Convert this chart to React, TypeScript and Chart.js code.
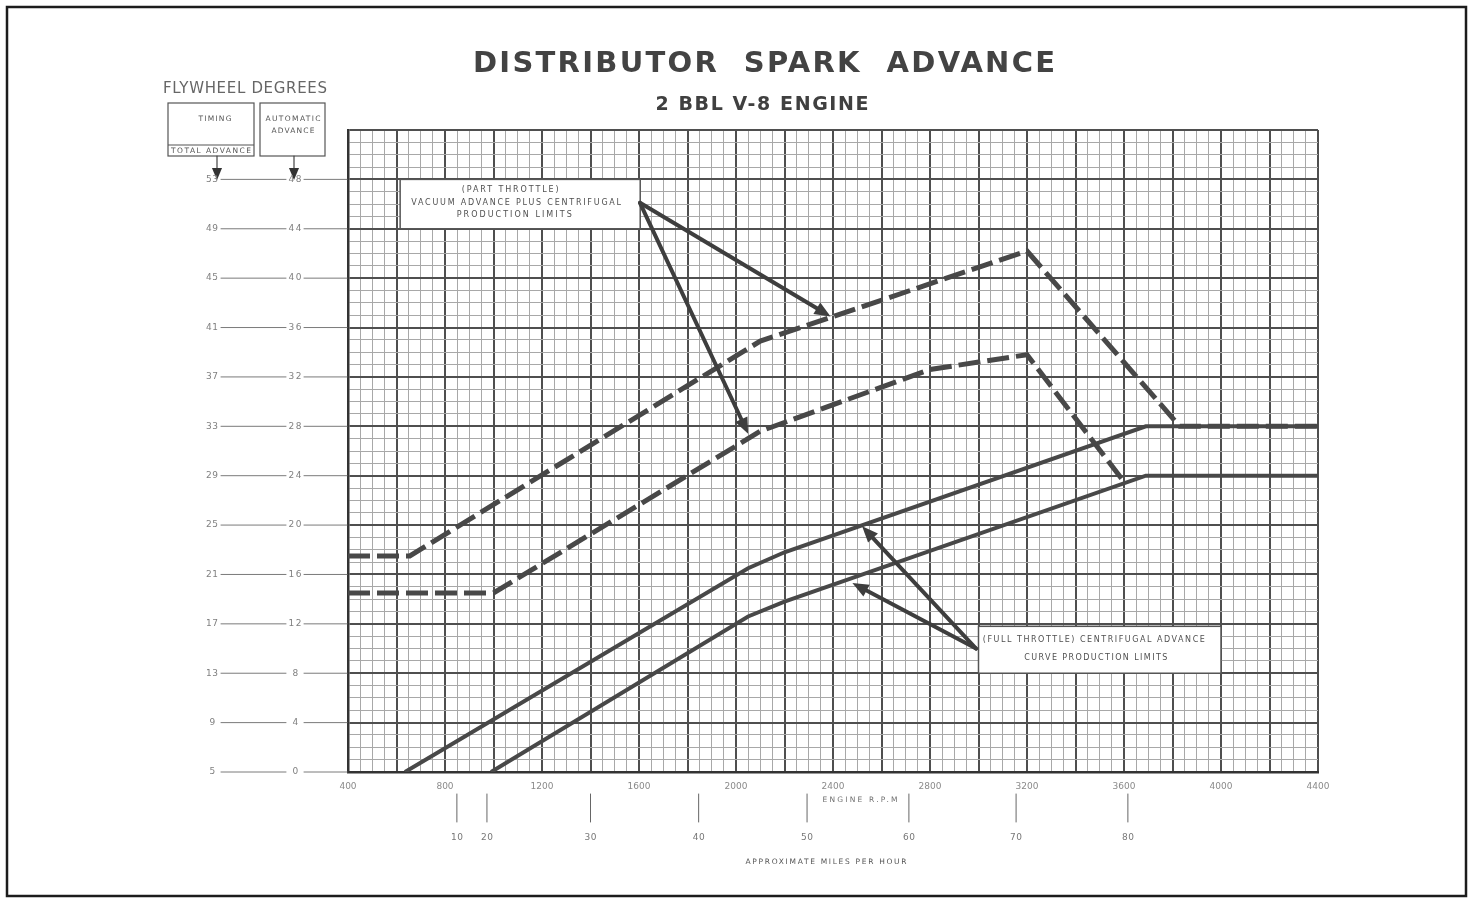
import React, { useEffect, useRef } from "react";
import { Chart, registerables } from "chart.js";

Chart.register(...registerables);

// ---------- data ----------
const rpmTickLabels = [400, 800, 1200, 1600, 2000, 2400, 2800, 3200, 3600, 4000, 4400];
const autoAdvanceTicks = [0, 4, 8, 12, 16, 20, 24, 28, 32, 36, 40, 44, 48];
const totalAdvanceTicks = [5, 9, 13, 17, 21, 25, 29, 33, 37, 41, 45, 49, 53];
const mphLabels = [10, 20, 30, 40, 50, 60, 70, 80];
const mphAtRpm = [849, 973, 1400, 1846, 2293, 2713, 3155, 3616];

// Part throttle (vacuum + centrifugal) limits – dashed
const partUpperRpm = [400, 655, 2100, 3200, 3830, 4400];
const partUpperDeg = [17.5, 17.5, 34.9, 42.2, 28, 28];
const partLowerRpm = [400, 1000, 2100, 2800, 3200, 3600];
const partLowerDeg = [14.5, 14.5, 27.6, 32.6, 33.8, 23.5];

// Full throttle (centrifugal) limits – solid
const fullUpperRpm = [635, 2050, 2200, 3690, 4400];
const fullUpperDeg = [0, 16.5, 17.8, 28, 28];
const fullLowerRpm = [990, 2050, 2200, 3690, 4400];
const fullLowerDeg = [0, 12.6, 13.8, 24, 24];

// annotation texts
const partNoteLines = ["(PART THROTTLE)", "VACUUM ADVANCE PLUS CENTRIFUGAL", "PRODUCTION LIMITS"];
const fullNoteLines = ["(FULL THROTTLE) CENTRIFUGAL ADVANCE", "CURVE PRODUCTION LIMITS"];

// annotation anchors in data units (rpm, degrees)
const partNoteBox = [615, 1605, 48, 44];
const partPointerFrom = [1604, 46.1];
const partPointerTo = [[2390, 36.9], [2050, 27.4]];
const fullNoteBox = [3000, 4000, 11.8, 8.0];
const fullPointerFrom = [2990, 10.0];
const fullPointerTo = [[2520, 19.9], [2480, 15.3]];

const zip = (xs: number[], ys: number[]) => xs.map((x, i) => ({ x, y: ys[i] }));

// ---------- helpers ----------
function spaced(
  ctx: CanvasRenderingContext2D,
  text: string,
  cx: number,
  cy: number,
  width: number,
  font: string,
  color: string
) {
  ctx.save();
  ctx.font = font;
  ctx.fillStyle = color;
  ctx.textBaseline = "middle";
  (ctx as any).letterSpacing = "0px";
  const w0 = ctx.measureText(text).width;
  const n = text.length;
  const ls = n > 1 ? (width - w0) / (n - 1) : 0;
  if ("letterSpacing" in ctx) {
    (ctx as any).letterSpacing = ls.toFixed(2) + "px";
    ctx.textAlign = "left";
    ctx.fillText(text, cx - width / 2, cy);
  } else {
    ctx.textAlign = "center";
    ctx.fillText(text, cx, cy);
  }
  ctx.restore();
}

function arrowLine(ctx: CanvasRenderingContext2D, x0: number, y0: number, x1: number, y1: number, w: number, head: number) {
  const a = Math.atan2(y1 - y0, x1 - x0);
  const bx = x1 - Math.cos(a) * head;
  const by = y1 - Math.sin(a) * head;
  ctx.lineWidth = w;
  ctx.lineCap = "round";
  ctx.beginPath();
  ctx.moveTo(x0, y0);
  ctx.lineTo(bx, by);
  ctx.stroke();
  const hw = head * 0.42;
  ctx.beginPath();
  ctx.moveTo(x1, y1);
  ctx.lineTo(bx + Math.sin(a) * hw, by - Math.cos(a) * hw);
  ctx.lineTo(bx - Math.sin(a) * hw, by + Math.cos(a) * hw);
  ctx.closePath();
  ctx.fill();
}

const decor = {
  id: "decor",
  afterDatasetsDraw(chart: any) {
    const ctx: CanvasRenderingContext2D = chart.ctx;
    const xs = chart.scales.x;
    const ys = chart.scales.y;
    const X = (v: number) => xs.getPixelForValue(v);
    const Y = (v: number) => ys.getPixelForValue(v);
    const area = chart.chartArea;
    const sans = "'DejaVu Sans', sans-serif";

    ctx.save();

    // outer frame
    ctx.strokeStyle = "#1c1c1c";
    ctx.lineWidth = 2.5;
    ctx.strokeRect(7, 7, 1459, 889);

    // titles
    spaced(ctx, "DISTRIBUTOR  SPARK  ADVANCE", 764, 64, 582, `bold 29px ${sans}`, "#434343");
    spaced(ctx, "2 BBL V-8 ENGINE", 762, 105, 213, `bold 19px ${sans}`, "#404040");

    // flywheel header
    spaced(ctx, "FLYWHEEL DEGREES", 245, 89, 164, `15px ${sans}`, "#666");
    ctx.strokeStyle = "#555";
    ctx.lineWidth = 1.2;
    ctx.strokeRect(168, 103, 86, 53);
    ctx.beginPath();
    ctx.moveTo(168, 145);
    ctx.lineTo(254, 145);
    ctx.stroke();
    ctx.strokeRect(260, 103, 65, 53);
    spaced(ctx, "TIMING", 215, 119, 33, `7.5px ${sans}`, "#555");
    spaced(ctx, "TOTAL ADVANCE", 211, 151, 80, `7.5px ${sans}`, "#555");
    spaced(ctx, "AUTOMATIC", 293, 119, 55, `7.5px ${sans}`, "#555");
    spaced(ctx, "ADVANCE", 293, 131, 43, `7.5px ${sans}`, "#555");
    ctx.fillStyle = "#333";
    ctx.strokeStyle = "#444";
    arrowLine(ctx, 217, 156, 217, 180, 1.2, 12);
    arrowLine(ctx, 294, 156, 294, 180, 1.2, 12);

    // left double scale
    ctx.strokeStyle = "#7a7a7a";
    ctx.lineWidth = 1;
    autoAdvanceTicks.forEach((v, i) => {
      const y = Y(v);
      ctx.beginPath();
      ctx.moveTo(221, y);
      ctx.lineTo(286, y);
      ctx.moveTo(304, y);
      ctx.lineTo(area.left - 1, y);
      ctx.stroke();
      spaced(ctx, String(totalAdvanceTicks[i]), 212, y, totalAdvanceTicks[i] >= 10 ? 12 : 5, `9px ${sans}`, "#808080");
      spaced(ctx, String(v), 295, y, v >= 10 ? 13 : 5, `9px ${sans}`, "#808080");
    });

    // x-axis extras
    spaced(ctx, "ENGINE R.P.M", 860, 800, 75, `7.5px ${sans}`, "#707070");
    ctx.strokeStyle = "#666";
    ctx.lineWidth = 1;
    mphAtRpm.forEach((r, i) => {
      const x = X(r);
      ctx.beginPath();
      ctx.moveTo(x, 794);
      ctx.lineTo(x, 822);
      ctx.stroke();
      spaced(ctx, String(mphLabels[i]), x, 838, 12, `9px ${sans}`, "#777");
    });
    spaced(ctx, "APPROXIMATE MILES PER HOUR", 826, 862, 161, `7.5px ${sans}`, "#555");

    // part throttle note
    {
      const [r0, r1, d0, d1] = partNoteBox;
      const bx0 = X(r0), bx1 = X(r1), by0 = Y(d0), by1 = Y(d1);
      ctx.fillStyle = "#fff";
      ctx.fillRect(bx0, by0, bx1 - bx0, by1 - by0);
      ctx.strokeStyle = "#555";
      ctx.lineWidth = 1.5;
      ctx.strokeRect(bx0, by0, bx1 - bx0, by1 - by0);
      const cx = (bx0 + bx1) / 2 - 4;
      spaced(ctx, partNoteLines[0], cx - 6, by0 + 11, 97, `8px ${sans}`, "#505050");
      spaced(ctx, partNoteLines[1], cx, by0 + 23.5, 210, `8px ${sans}`, "#505050");
      spaced(ctx, partNoteLines[2], cx - 2, by0 + 36, 115, `8px ${sans}`, "#505050");
      ctx.strokeStyle = "#3e3e3e";
      ctx.fillStyle = "#3e3e3e";
      partPointerTo.forEach(([r, d]) => {
        arrowLine(ctx, X(partPointerFrom[0]), Y(partPointerFrom[1]), X(r), Y(d), 4, 16);
      });
    }

    // full throttle note
    {
      const [r0, r1, d0, d1] = fullNoteBox;
      const bx0 = X(r0), bx1 = X(r1), by0 = Y(d0), by1 = Y(d1);
      ctx.fillStyle = "#fff";
      ctx.fillRect(bx0, by0, bx1 - bx0, by1 - by0);
      ctx.strokeStyle = "#555";
      ctx.lineWidth = 1.5;
      ctx.strokeRect(bx0, by0, bx1 - bx0, by1 - by0);
      const cx = (bx0 + bx1) / 2 - 4;
      spaced(ctx, fullNoteLines[0], cx - 2, by0 + 14, 222, `8px ${sans}`, "#505050");
      spaced(ctx, fullNoteLines[1], cx, by0 + 32, 143, `8px ${sans}`, "#505050");
      ctx.strokeStyle = "#3e3e3e";
      ctx.fillStyle = "#3e3e3e";
      fullPointerTo.forEach(([r, d]) => {
        arrowLine(ctx, X(fullPointerFrom[0]), Y(fullPointerFrom[1]), X(r), Y(d), 4, 16);
      });
    }

    ctx.restore();
  },
};

const X_AXIS_H = 24;

export default function App() {
  const ref = useRef<HTMLCanvasElement>(null);

  useEffect(() => {
    const canvas = ref.current;
    if (!canvas) return;
    const lineColor = "#484848";
    const chart = new Chart(canvas, {
      type: "line",
      data: {
        datasets: [
          {
            label: "Part throttle upper",
            data: zip(partUpperRpm, partUpperDeg),
            borderColor: lineColor,
            borderWidth: 5,
            borderDash: [22, 7],
            pointRadius: 0,
            fill: false,
            tension: 0,
          },
          {
            label: "Part throttle lower",
            data: zip(partLowerRpm, partLowerDeg),
            borderColor: lineColor,
            borderWidth: 5,
            borderDash: [22, 7],
            pointRadius: 0,
            fill: false,
            tension: 0,
          },
          {
            label: "Full throttle upper",
            data: zip(fullUpperRpm, fullUpperDeg),
            borderColor: lineColor,
            borderWidth: 4,
            pointRadius: 0,
            fill: false,
            tension: 0,
          },
          {
            label: "Full throttle lower",
            data: zip(fullLowerRpm, fullLowerDeg),
            borderColor: lineColor,
            borderWidth: 4,
            pointRadius: 0,
            fill: false,
            tension: 0,
          },
        ],
      },
      options: {
        responsive: false,
        maintainAspectRatio: false,
        animation: false,
        devicePixelRatio: 1,
        layout: { padding: { left: 348, top: 130, right: 154, bottom: 901 - 772 - X_AXIS_H } },
        plugins: {
          legend: { display: false },
          tooltip: { enabled: false },
          title: { display: false },
        },
        scales: {
          x: {
            type: "linear",
            min: 400,
            max: 4400,
            afterFit: (s: any) => {
              s.height = X_AXIS_H;
            },
            ticks: {
              stepSize: 50,
              autoSkip: false,
              maxRotation: 0,
              padding: 9,
              color: "#8a8a8a",
              font: { size: 9, family: "'DejaVu Sans', sans-serif" },
              callback: (v: any) => (rpmTickLabels.includes(Number(v)) ? String(v) : ""),
            },
            grid: {
              drawTicks: false,
              color: (c: any) => (c.tick && c.tick.value % 200 === 0 ? "#4f4f4f" : "#a8a8a8"),
              lineWidth: (c: any) => (c.tick && c.tick.value % 200 === 0 ? 2 : 1),
            },
            border: { display: true, color: "#333", width: 2.5 },
          },
          y: {
            type: "linear",
            min: 0,
            max: 52,
            afterFit: (s: any) => {
              s.width = 0;
            },
            ticks: { stepSize: 1, display: false },
            grid: {
              drawTicks: false,
              color: (c: any) =>
                c.tick && (c.tick.value % 4 === 0 || c.tick.value === 52) ? "#4f4f4f" : "#a8a8a8",
              lineWidth: (c: any) => (c.tick && (c.tick.value % 4 === 0 || c.tick.value === 52) ? 2 : 1),
            },
            border: { display: true, color: "#333", width: 2.5 },
          },
        },
      },
      plugins: [decor],
    } as any);
    return () => chart.destroy();
  }, []);

  return (
    <div style={{ position: "fixed", left: 0, top: 0, width: 1472, height: 901, background: "#fff" }}>
      <canvas ref={ref} width={1472} height={901} style={{ display: "block" }} />
    </div>
  );
}
